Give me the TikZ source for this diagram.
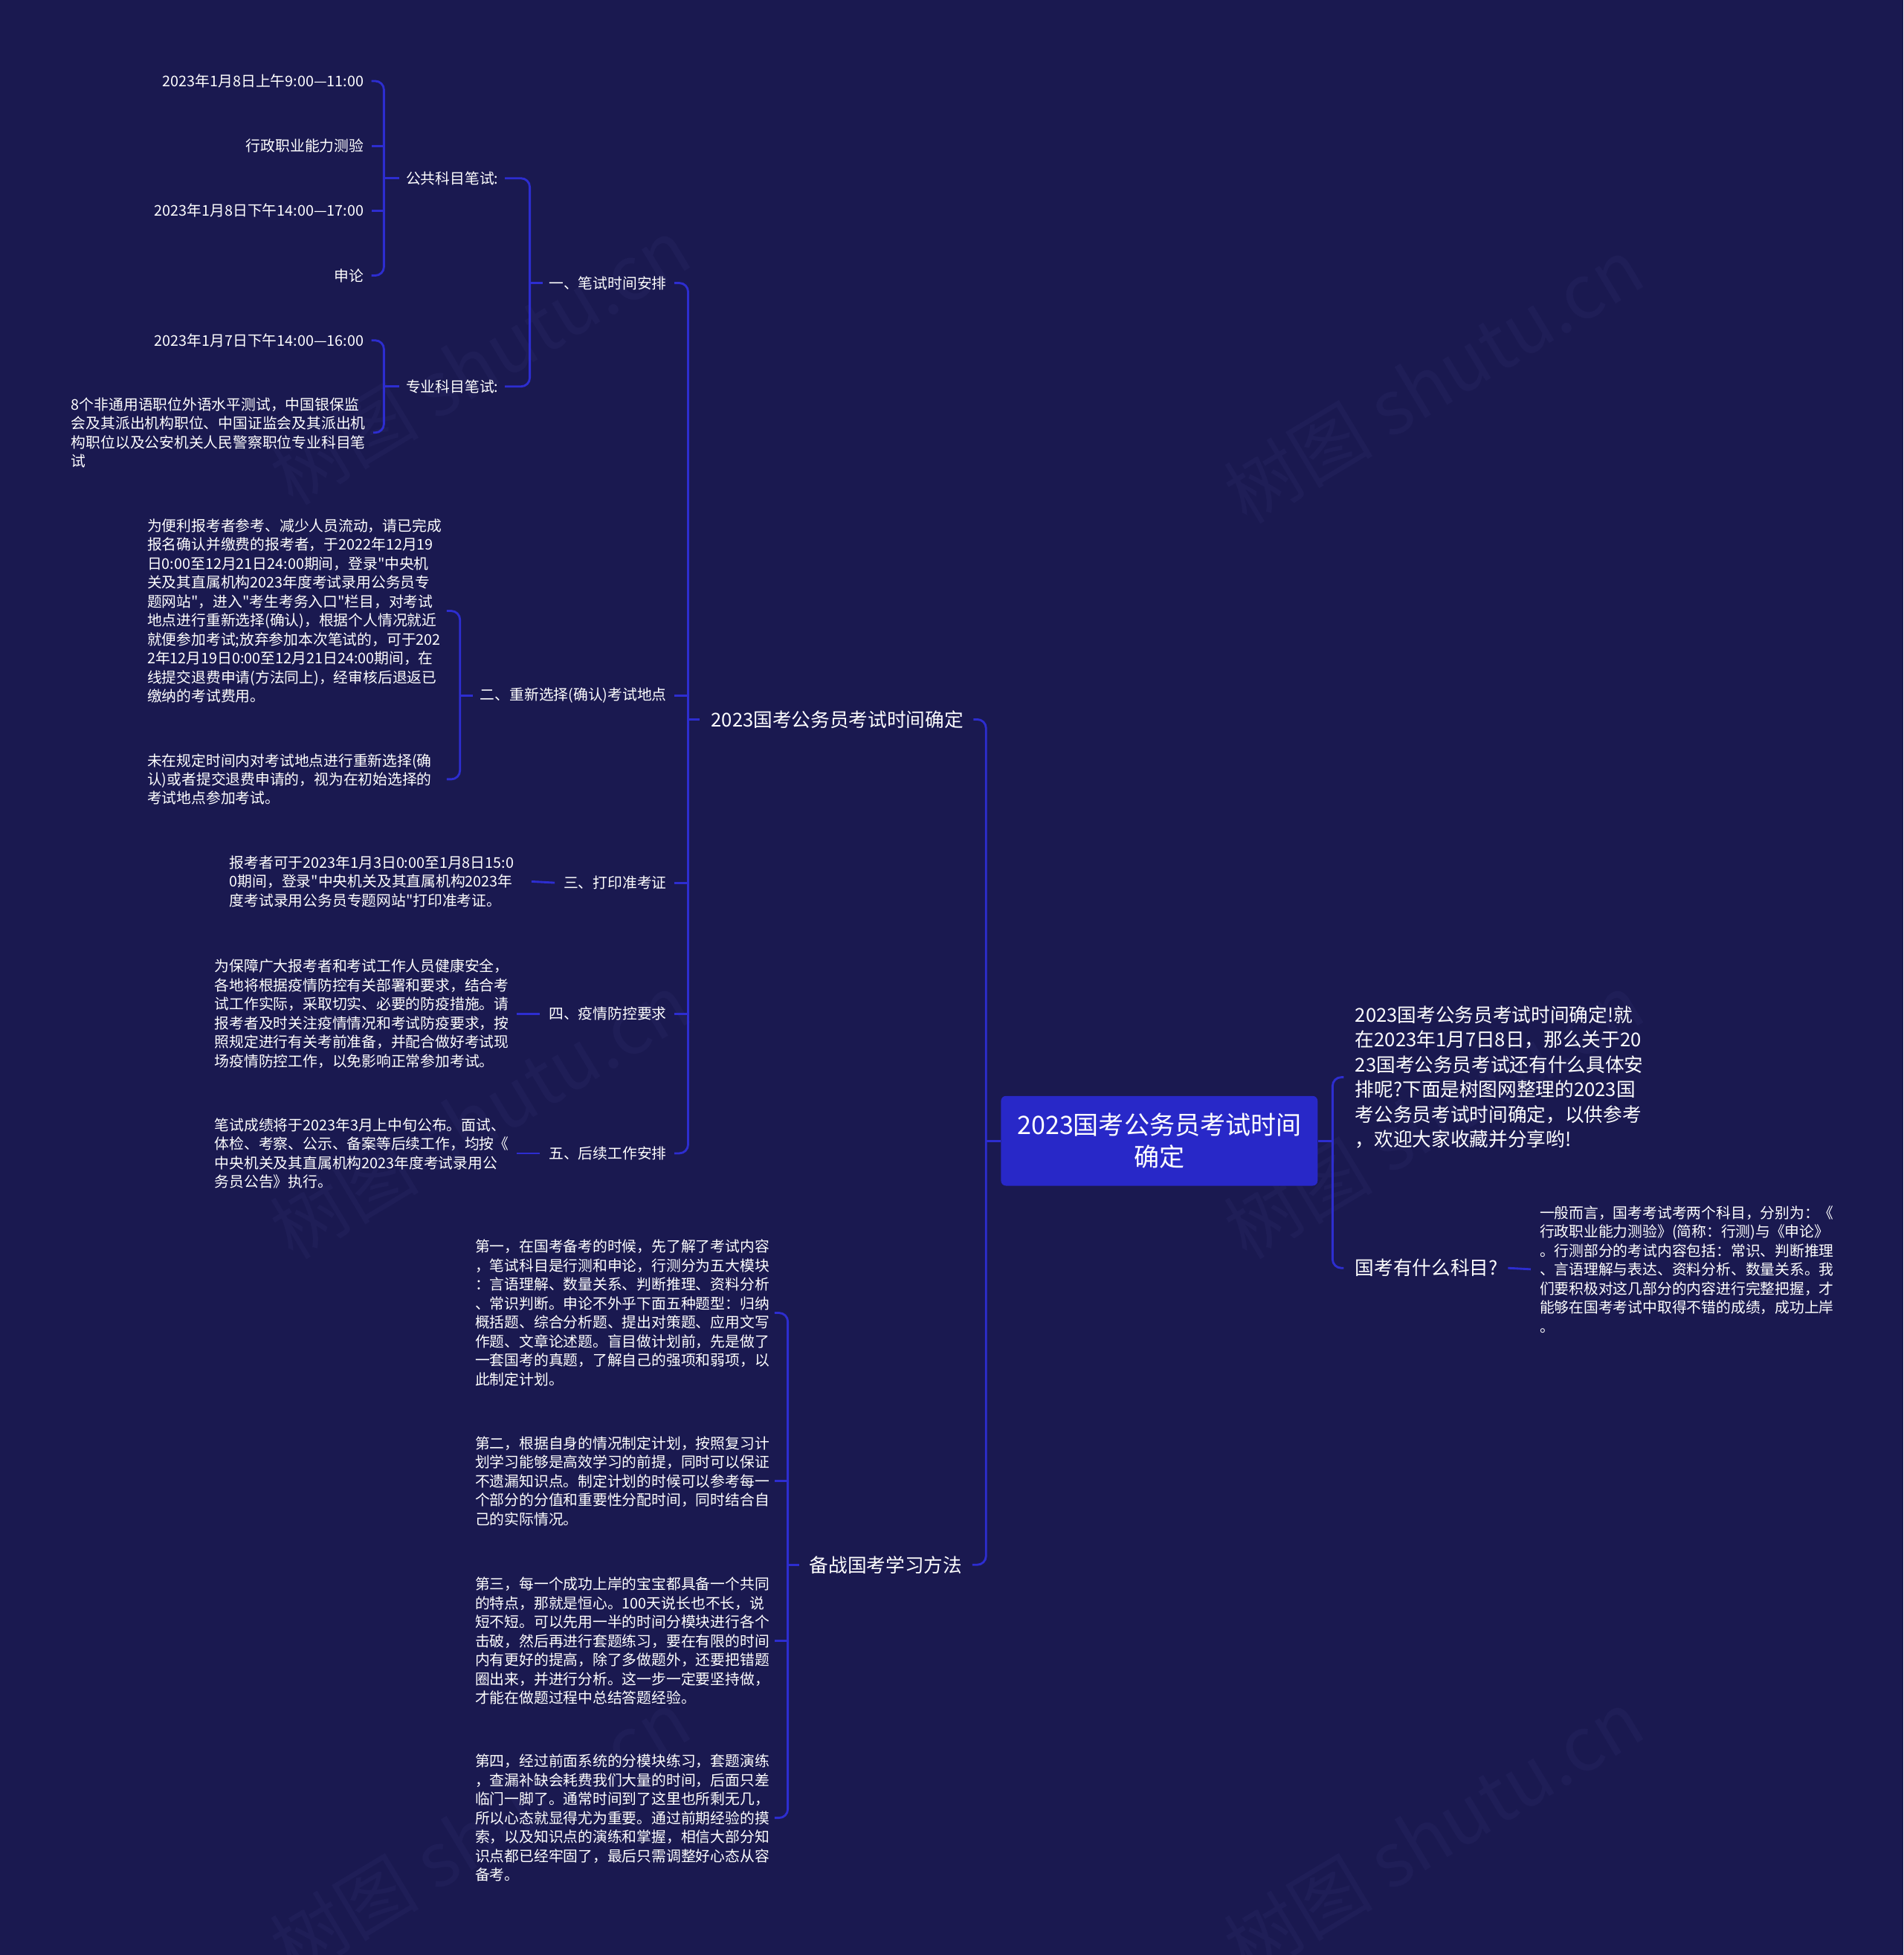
\documentclass[tikz,border=0pt]{standalone}
\usepackage{fontspec}
\setmainfont{Noto Sans CJK SC}
\newfontfamily\plainf{Noto Sans CJK SC}
\definecolor{bgc}{RGB}{26,25,80}
\definecolor{linec}{RGB}{45,45,208}
\definecolor{rootc}{RGB}{40,40,200}
\definecolor{wmc}{RGB}{31,30,87}
\tikzset{
  small/.style={font=\plainf\fontsize{11.8bp}{15.2bp}\selectfont, text=white, inner sep=0pt},
  mid/.style={font=\plainf\fontsize{15.3bp}{20bp}\selectfont, text=white, inner sep=0pt},
  para/.style={small, align=left, text width=240bp, anchor=west},
  midpara/.style={mid, align=left, text width=235bp, anchor=west},
  rootbox/.style={fill=rootc, rounded corners=4bp, minimum width=254bp, minimum height=72bp,
    align=center, text=white, inner sep=0pt, font=\plainf\fontsize{20.3bp}{26bp}\selectfont},
  conn/.style={draw=linec, line width=1.7bp, rounded corners=7bp},
  wm/.style={text=wmc, font=\plainf\fontsize{60bp}{60bp}\selectfont, rotate=31, inner sep=0pt}
}
\begin{document}
\begin{tikzpicture}[x=1bp,y=-1bp]
\fill[bgc] (0,0) rectangle (1527,1568);
\useasboundingbox (0,0) rectangle (1527,1568);

% watermarks
\node[wm] (w1) at (1150,305) {树图 shutu.cn};
\node[wm] (w2) at (385,290) {树图 shutu.cn};
\node[wm] (w3) at (385,895) {树图 shutu.cn};
\node[wm] (w4) at (1150,895) {树图 shutu.cn};
\node[wm] (w5) at (385,1470) {树图 shutu.cn};
\node[wm] (w6) at (1150,1470) {树图 shutu.cn};

% spine coordinates
\coordinate (rs) at (1069,0);
\coordinate (ls) at (791,0);
\coordinate (s1) at (552,0);
\coordinate (s2) at (425,0);
\coordinate (s3) at (308,0);
\coordinate (s4) at (369,0);
\coordinate (s5) at (632,0);

% root
\node[rootbox] (root) at (930,915) {2023国考公务员考试时间\\确定};

% right side
\node[midpara] (r1) at (1087,864) {2023国考公务员考试时间确定!就\\在2023年1月7日8日，那么关于20\\23国考公务员考试还有什么具体安\\排呢?下面是树图网整理的2023国\\考公务员考试时间确定，以供参考\\，欢迎大家收藏并分享哟!};
\node[mid, anchor=west] (r2) at (1087,1017) {国考有什么科目?};
\node[para] (r2a) at (1235,1018) {一般而言，国考考试考两个科目，分别为：《\\行政职业能力测验》(简称：行测)与《申论》\\。行测部分的考试内容包括：常识、判断推理\\、言语理解与表达、资料分析、数量关系。我\\们要积极对这几部分的内容进行完整把握，才\\能够在国考考试中取得不错的成绩，成功上岸\\。};

\draw[conn] (root.east) -- (root.east -| rs);
\draw[conn] ([xshift=-9bp]r1.west) -- (r1.west -| rs) -- (r2.west -| rs) -- ([xshift=-9bp]r2.west);
\draw[conn] ([xshift=8bp]r2.east) -- ([xshift=-7bp]r2a.west);

% left main branches
\node[mid, anchor=east] (l1) at (773,577) {2023国考公务员考试时间确定};
\node[mid, anchor=east] (l2) at (772,1255) {备战国考学习方法};
\draw[conn] (root.west) -- (root.west -| ls);
\draw[conn] ([xshift=8bp]l1.east) -- (l1.east -| ls) -- (l2.east -| ls) -- ([xshift=8bp]l2.east);

% level 2 under l1
\node[small, anchor=east] (a1) at (535,227) {一、笔试时间安排};
\node[small, anchor=east] (a2) at (535,558) {二、重新选择(确认)考试地点};
\node[small, anchor=east] (a3) at (535,708) {三、打印准考证};
\node[small, anchor=east] (a4) at (535,813) {四、疫情防控要求};
\node[small, anchor=east] (a5) at (535,925) {五、后续工作安排};
\draw[conn] ([xshift=-9bp]l1.west) -- (l1.west -| s1);
\draw[conn] ([xshift=6bp]a1.east) -- (a1.east -| s1) -- (a5.east -| s1) -- ([xshift=6bp]a5.east);
\draw[conn] (a2.east -| s1) -- ([xshift=6bp]a2.east);
\draw[conn] (a3.east -| s1) -- ([xshift=6bp]a3.east);
\draw[conn] (a4.east -| s1) -- ([xshift=6bp]a4.east);

% under a1
\node[small, anchor=east] (b1) at (400,143) {公共科目笔试:};
\node[small, anchor=east] (b2) at (400,310) {专业科目笔试:};
\draw[conn] ([xshift=-5bp]a1.west) -- (a1.west -| s2);
\draw[conn] ([xshift=5bp]b1.east) -- (b1.east -| s2) -- (b2.east -| s2) -- ([xshift=5bp]b2.east);

% under b1
\node[small, anchor=east] (c1) at (292,65) {2023年1月8日上午9:00—11:00};
\node[small, anchor=east] (c2) at (292,117) {行政职业能力测验};
\node[small, anchor=east] (c3) at (292,169) {2023年1月8日下午14:00—17:00};
\node[small, anchor=east] (c4) at (292,221) {申论};
\draw[conn] ([xshift=-5bp]b1.west) -- (b1.west -| s3);
\draw[conn] ([xshift=6bp]c1.east) -- (c1.east -| s3) -- (c4.east -| s3) -- ([xshift=6bp]c4.east);
\draw[conn] (c2.east -| s3) -- ([xshift=6bp]c2.east);
\draw[conn] (c3.east -| s3) -- ([xshift=6bp]c3.east);

% under b2
\node[small, anchor=east] (c5) at (292,273) {2023年1月7日下午14:00—16:00};
\node[para, text width=236bp] (c6) at (57,347) {8个非通用语职位外语水平测试，中国银保监\\会及其派出机构职位、中国证监会及其派出机\\构职位以及公安机关人民警察职位专业科目笔\\试};
\draw[conn] ([xshift=-5bp]b2.west) -- (b2.west -| s3);
\draw[conn] ([xshift=6bp]c5.east) -- (c5.east -| s3) -- (c6.east -| s3) -- ([xshift=6bp]c6.east);

% under a2
\node[para] (d1) at (118,490) {为便利报考者参考、减少人员流动，请已完成\\报名确认并缴费的报考者，于2022年12月19\\日0:00至12月21日24:00期间，登录"中央机\\关及其直属机构2023年度考试录用公务员专\\题网站"，进入"考生考务入口"栏目，对考试\\地点进行重新选择(确认)，根据个人情况就近\\就便参加考试;放弃参加本次笔试的，可于202\\2年12月19日0:00至12月21日24:00期间，在\\线提交退费申请(方法同上)，经审核后退返已\\缴纳的考试费用。};
\node[para] (d2) at (118,625) {未在规定时间内对考试地点进行重新选择(确\\认)或者提交退费申请的，视为在初始选择的\\考试地点参加考试。};
\draw[conn] ([xshift=-6bp]a2.west) -- (a2.west -| s4);
\draw[conn] (d1.east) -- (d1.east -| s4) -- (d2.east -| s4) -- (d2.east);

% under a3, a4, a5
\node[para] (e1) at (184,707) {报考者可于2023年1月3日0:00至1月8日15:0\\0期间，登录"中央机关及其直属机构2023年\\度考试录用公务员专题网站"打印准考证。};
\node[para] (e2) at (172,813) {为保障广大报考者和考试工作人员健康安全，\\各地将根据疫情防控有关部署和要求，结合考\\试工作实际，采取切实、必要的防疫措施。请\\报考者及时关注疫情情况和考试防疫要求，按\\照规定进行有关考前准备，并配合做好考试现\\场疫情防控工作，以免影响正常参加考试。};
\node[para] (e3) at (172,925) {笔试成绩将于2023年3月上中旬公布。面试、\\体检、考察、公示、备案等后续工作，均按《\\中央机关及其直属机构2023年度考试录用公\\务员公告》执行。};
\draw[conn] ([xshift=-7bp]a3.west) -- ([xshift=2bp]e1.east);
\draw[conn] ([xshift=-7bp]a4.west) -- ([xshift=2bp]e2.east);
\draw[conn] ([xshift=-7bp]a5.west) -- ([xshift=2bp]e3.east);

% under l2
\node[para] (f1) at (381,1053) {第一，在国考备考的时候，先了解了考试内容\\，笔试科目是行测和申论，行测分为五大模块\\：言语理解、数量关系、判断推理、资料分析\\、常识判断。申论不外乎下面五种题型：归纳\\概括题、综合分析题、提出对策题、应用文写\\作题、文章论述题。盲目做计划前，先是做了\\一套国考的真题，了解自己的强项和弱项，以\\此制定计划。};
\node[para] (f2) at (381,1188) {第二，根据自身的情况制定计划，按照复习计\\划学习能够是高效学习的前提，同时可以保证\\不遗漏知识点。制定计划的时候可以参考每一\\个部分的分值和重要性分配时间，同时结合自\\己的实际情况。};
\node[para] (f3) at (381,1316) {第三，每一个成功上岸的宝宝都具备一个共同\\的特点，那就是恒心。100天说长也不长，说\\短不短。可以先用一半的时间分模块进行各个\\击破，然后再进行套题练习，要在有限的时间\\内有更好的提高，除了多做题外，还要把错题\\圈出来，并进行分析。这一步一定要坚持做，\\才能在做题过程中总结答题经验。};
\node[para] (f4) at (381,1458) {第四，经过前面系统的分模块练习，套题演练\\，查漏补缺会耗费我们大量的时间，后面只差\\临门一脚了。通常时间到了这里也所剩无几，\\所以心态就显得尤为重要。通过前期经验的摸\\索，以及知识点的演练和掌握，相信大部分知\\识点都已经牢固了，最后只需调整好心态从容\\备考。};
\draw[conn] ([xshift=-8bp]l2.west) -- (l2.west -| s5);
\draw[conn] (f1.east) -- (f1.east -| s5) -- (f4.east -| s5) -- (f4.east);
\draw[conn] (f2.east -| s5) -- (f2.east);
\draw[conn] (f3.east -| s5) -- (f3.east);
\end{tikzpicture}
\end{document}
